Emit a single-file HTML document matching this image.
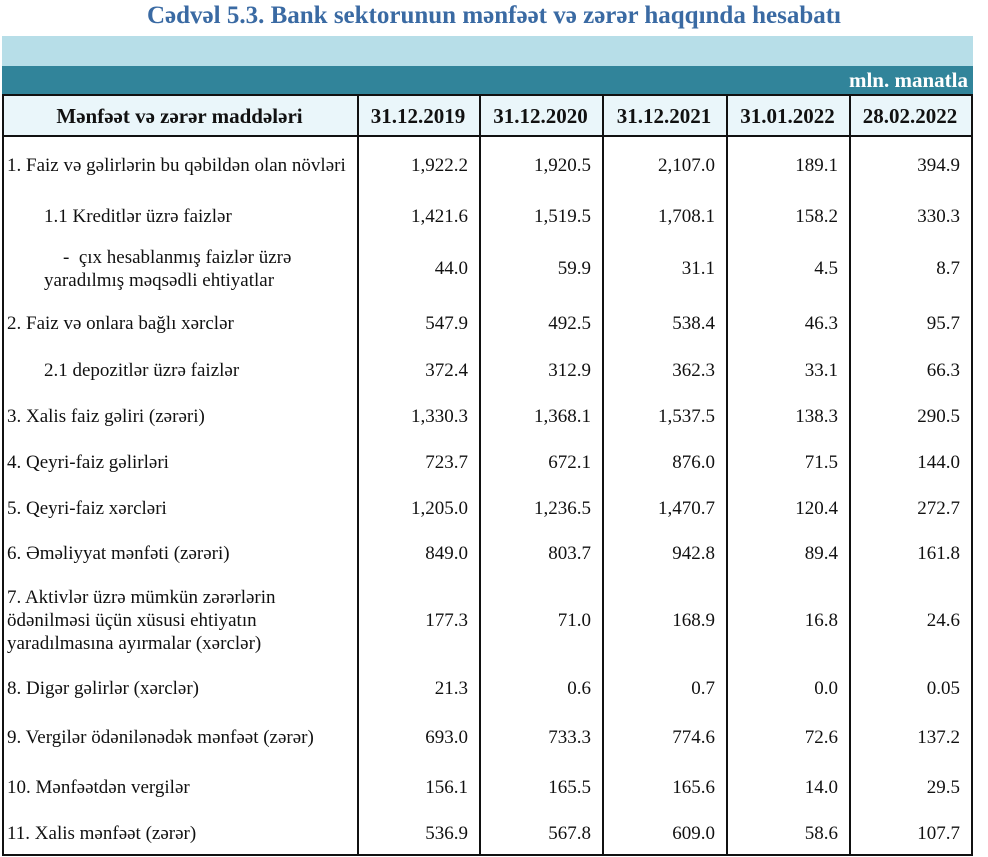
<!DOCTYPE html>
<html><head><meta charset="utf-8"><style>
body{margin:0;width:988px;height:857px;background:#fff;position:relative;overflow:hidden;font-family:"Liberation Serif",serif;color:#111}
.a{position:absolute}
.t{font-size:19px;line-height:23px;white-space:nowrap}
.n{text-align:right;width:110px}
.vl{position:absolute;top:94px;width:2px;height:762px;background:#111}
.h{font-weight:bold;font-size:21px;text-align:center;top:103px;line-height:26px}
</style></head><body>
<div class="a" style="left:0;width:988px;top:1px;text-align:center;font-weight:bold;font-size:25px;color:#3a6aa3;line-height:30px">Cədvəl 5.3. Bank sektorunun mənfəət və zərər haqqında hesabatı</div>
<div class="a" style="left:2px;top:36px;width:971px;height:30px;background:#b7dee8"></div>
<div class="a" style="left:2px;top:66px;width:971px;height:28px;background:#31849a"></div>
<div class="a" style="right:20px;top:67px;color:#fff;font-weight:bold;font-size:21px;line-height:26px">mln. manatla</div>
<div class="a" style="left:2px;top:94px;width:970px;height:42px;background:#eaf6fa"></div>
<div class="a" style="left:2px;top:94px;width:971px;height:2px;background:#111"></div>
<div class="a" style="left:2px;top:135px;width:971px;height:2px;background:#111"></div>
<div class="a" style="left:2px;top:854px;width:971px;height:2px;background:#111"></div>
<div class="vl" style="left:2px"></div><div class="vl" style="left:357px"></div><div class="vl" style="left:479px"></div><div class="vl" style="left:602px"></div><div class="vl" style="left:726px"></div><div class="vl" style="left:849px"></div><div class="vl" style="left:971px"></div>
<div class="a h" style="left:2px;width:355px">Mənfəət və zərər maddələri</div>
<div class="a h" style="left:357px;width:122px">31.12.2019</div>
<div class="a h" style="left:479px;width:123px">31.12.2020</div>
<div class="a h" style="left:602px;width:124px">31.12.2021</div>
<div class="a h" style="left:726px;width:123px">31.01.2022</div>
<div class="a h" style="left:849px;width:122px">28.02.2022</div>

<div class="a t" style="left:7px;top:154px">1. Faiz və gəlirlərin bu qəbildən olan növləri</div>
<div class="a t" style="left:44px;top:205px">1.1 Kreditlər üzrə faizlər</div>
<div class="a t" style="left:44px;top:246px">&nbsp;&nbsp;&nbsp;&nbsp;-&nbsp; çıx hesablanmış faizlər üzrə<br>yaradılmış məqsədli ehtiyatlar</div>
<div class="a t" style="left:7px;top:312px">2. Faiz və onlara bağlı xərclər</div>
<div class="a t" style="left:44px;top:359px">2.1 depozitlər üzrə faizlər</div>
<div class="a t" style="left:7px;top:405px">3. Xalis faiz gəliri (zərəri)</div>
<div class="a t" style="left:7px;top:451px">4. Qeyri-faiz gəlirləri</div>
<div class="a t" style="left:7px;top:497px">5. Qeyri-faiz xərcləri</div>
<div class="a t" style="left:7px;top:542px">6. Əməliyyat mənfəti (zərəri)</div>
<div class="a t" style="left:7px;top:586px">7. Aktivlər üzrə mümkün zərərlərin<br>ödənilməsi üçün xüsusi ehtiyatın<br>yaradılmasına ayırmalar (xərclər)</div>
<div class="a t" style="left:7px;top:677px">8. Digər gəlirlər (xərclər)</div>
<div class="a t" style="left:7px;top:726px">9. Vergilər ödənilənədək mənfəət (zərər)</div>
<div class="a t" style="left:7px;top:776px">10. Mənfəətdən vergilər</div>
<div class="a t" style="left:7px;top:822px">11. Xalis mənfəət (zərər)</div>

<div class="a t n" style="left:358px;top:154px">1,922.2</div><div class="a t n" style="left:481px;top:154px">1,920.5</div><div class="a t n" style="left:605px;top:154px">2,107.0</div><div class="a t n" style="left:728px;top:154px">189.1</div><div class="a t n" style="left:850px;top:154px">394.9</div>
<div class="a t n" style="left:358px;top:205px">1,421.6</div><div class="a t n" style="left:481px;top:205px">1,519.5</div><div class="a t n" style="left:605px;top:205px">1,708.1</div><div class="a t n" style="left:728px;top:205px">158.2</div><div class="a t n" style="left:850px;top:205px">330.3</div>
<div class="a t n" style="left:358px;top:257px">44.0</div><div class="a t n" style="left:481px;top:257px">59.9</div><div class="a t n" style="left:605px;top:257px">31.1</div><div class="a t n" style="left:728px;top:257px">4.5</div><div class="a t n" style="left:850px;top:257px">8.7</div>
<div class="a t n" style="left:358px;top:312px">547.9</div><div class="a t n" style="left:481px;top:312px">492.5</div><div class="a t n" style="left:605px;top:312px">538.4</div><div class="a t n" style="left:728px;top:312px">46.3</div><div class="a t n" style="left:850px;top:312px">95.7</div>
<div class="a t n" style="left:358px;top:359px">372.4</div><div class="a t n" style="left:481px;top:359px">312.9</div><div class="a t n" style="left:605px;top:359px">362.3</div><div class="a t n" style="left:728px;top:359px">33.1</div><div class="a t n" style="left:850px;top:359px">66.3</div>
<div class="a t n" style="left:358px;top:405px">1,330.3</div><div class="a t n" style="left:481px;top:405px">1,368.1</div><div class="a t n" style="left:605px;top:405px">1,537.5</div><div class="a t n" style="left:728px;top:405px">138.3</div><div class="a t n" style="left:850px;top:405px">290.5</div>
<div class="a t n" style="left:358px;top:451px">723.7</div><div class="a t n" style="left:481px;top:451px">672.1</div><div class="a t n" style="left:605px;top:451px">876.0</div><div class="a t n" style="left:728px;top:451px">71.5</div><div class="a t n" style="left:850px;top:451px">144.0</div>
<div class="a t n" style="left:358px;top:497px">1,205.0</div><div class="a t n" style="left:481px;top:497px">1,236.5</div><div class="a t n" style="left:605px;top:497px">1,470.7</div><div class="a t n" style="left:728px;top:497px">120.4</div><div class="a t n" style="left:850px;top:497px">272.7</div>
<div class="a t n" style="left:358px;top:542px">849.0</div><div class="a t n" style="left:481px;top:542px">803.7</div><div class="a t n" style="left:605px;top:542px">942.8</div><div class="a t n" style="left:728px;top:542px">89.4</div><div class="a t n" style="left:850px;top:542px">161.8</div>
<div class="a t n" style="left:358px;top:609px">177.3</div><div class="a t n" style="left:481px;top:609px">71.0</div><div class="a t n" style="left:605px;top:609px">168.9</div><div class="a t n" style="left:728px;top:609px">16.8</div><div class="a t n" style="left:850px;top:609px">24.6</div>
<div class="a t n" style="left:358px;top:677px">21.3</div><div class="a t n" style="left:481px;top:677px">0.6</div><div class="a t n" style="left:605px;top:677px">0.7</div><div class="a t n" style="left:728px;top:677px">0.0</div><div class="a t n" style="left:850px;top:677px">0.05</div>
<div class="a t n" style="left:358px;top:726px">693.0</div><div class="a t n" style="left:481px;top:726px">733.3</div><div class="a t n" style="left:605px;top:726px">774.6</div><div class="a t n" style="left:728px;top:726px">72.6</div><div class="a t n" style="left:850px;top:726px">137.2</div>
<div class="a t n" style="left:358px;top:776px">156.1</div><div class="a t n" style="left:481px;top:776px">165.5</div><div class="a t n" style="left:605px;top:776px">165.6</div><div class="a t n" style="left:728px;top:776px">14.0</div><div class="a t n" style="left:850px;top:776px">29.5</div>
<div class="a t n" style="left:358px;top:822px">536.9</div><div class="a t n" style="left:481px;top:822px">567.8</div><div class="a t n" style="left:605px;top:822px">609.0</div><div class="a t n" style="left:728px;top:822px">58.6</div><div class="a t n" style="left:850px;top:822px">107.7</div>
</body></html>
